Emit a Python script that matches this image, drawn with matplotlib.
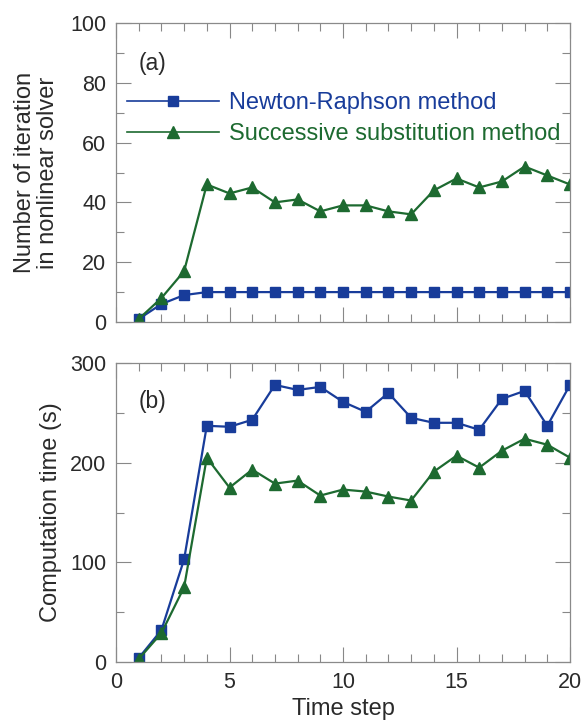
import numpy as np
import matplotlib.pyplot as plt
from matplotlib.ticker import MultipleLocator

plt.rcParams['font.family'] = ['Liberation Sans', 'DejaVu Sans']

# time steps
steps = np.arange(1, 21)

# iterations of the nonlinear solver
iter_nr = [1, 6, 9, 10, 10, 10, 10, 10, 10, 10, 10, 10, 10, 10, 10, 10, 10, 10, 10, 10]
iter_ss = [1, 8, 17, 46, 43, 45, 40, 41, 37, 39, 39, 37, 36, 44, 48, 45, 47, 52, 49, 46]

# computation time (s)
time_nr = [4, 32, 103, 237, 236, 243, 278, 273, 276, 261, 251, 270, 245, 240, 240, 233, 264, 272, 237, 278]
time_ss = [3, 29, 75, 205, 175, 193, 179, 182, 167, 173, 171, 166, 162, 191, 207, 195, 212, 224, 218, 205]

blue = '#183c9a'
green = '#1d6a30'
txt = '#2a2a2a'

W, H = 586, 722
fig = plt.figure(figsize=(W/100, H/100), dpi=100)
ax1 = fig.add_axes([116/W, 1-322/H, 454/W, 299/H])
ax2 = fig.add_axes([116/W, 1-662/H, 454/W, 299/H])

for ax in (ax1, ax2):
    ax.set_xlim(0, 20)
    ax.xaxis.set_major_locator(MultipleLocator(5))
    ax.xaxis.set_minor_locator(MultipleLocator(1))
    ax.tick_params(which='both', direction='in', top=True, right=True,
                   colors='#888888', labelcolor=txt, labelsize=15.5, pad=7)
    ax.tick_params(which='major', length=11, width=0.8)
    ax.tick_params(which='minor', length=5.5, width=0.8)
    for s in ax.spines.values():
        s.set_color('#8a8a8a')
        s.set_linewidth(0.9)

ax1.plot(steps, iter_nr, color=blue, marker='s', ms=7.5, lw=1.6, label='Newton-Raphson method')
ax1.plot(steps, iter_ss, color=green, marker='^', ms=8, lw=1.6, label='Successive substitution method')
ax1.set_ylim(0, 100)
ax1.yaxis.set_major_locator(MultipleLocator(20))
ax1.yaxis.set_minor_locator(MultipleLocator(10))
ax1.tick_params(axis='x', labelbottom=False)
ax1.set_ylabel('Number of iteration\nin nonlinear solver', fontsize=17, color=txt,
               labelpad=8, linespacing=1.05)
ax1.text(1.6, 86.6, '(a)', fontsize=16.5, color=txt, ha='center', va='center')
leg = ax1.legend(loc='center left', bbox_to_anchor=(0.013, 0.68), frameon=False,
                 fontsize=17, handlelength=3.9, handletextpad=0.45, labelspacing=0.38,
                 borderaxespad=0, borderpad=0.2)
for t, c in zip(leg.get_texts(), (blue, green)):
    t.set_color(c)
for h in leg.get_lines():
    h.set_linewidth(1.2)

ax2.plot(steps, time_nr, color=blue, marker='s', ms=7.5, lw=1.6)
ax2.plot(steps, time_ss, color=green, marker='^', ms=8, lw=1.6)
ax2.set_ylim(0, 300)
ax2.yaxis.set_major_locator(MultipleLocator(100))
ax2.yaxis.set_minor_locator(MultipleLocator(50))
ax2.set_ylabel('Computation time (s)', fontsize=17, color=txt, labelpad=6)
ax2.set_xlabel('Time step', fontsize=17, color=txt, labelpad=4)
ax2.text(1.6, 261, '(b)', fontsize=16.5, color=txt, ha='center', va='center')

fig.savefig('out.png', dpi=100)
